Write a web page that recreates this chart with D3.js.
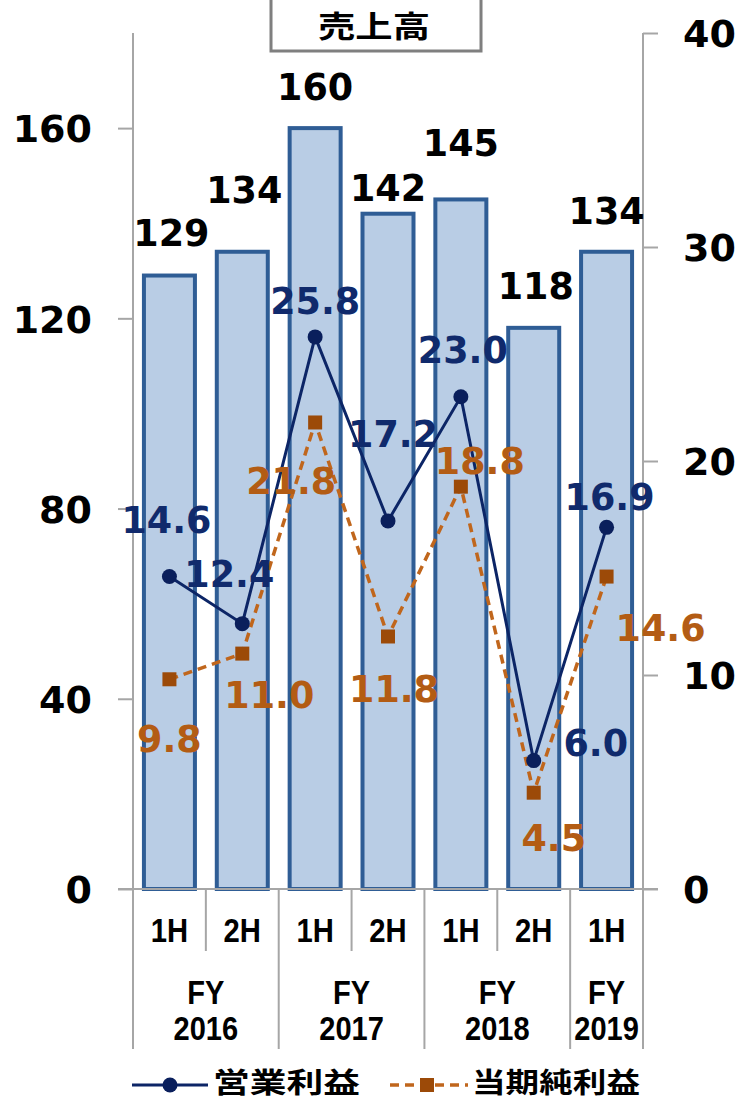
<!DOCTYPE html>
<html><head><meta charset="utf-8">
<script src="https://cdn.jsdelivr.net/npm/d3@7/dist/d3.min.js"></script>
<style>body{margin:0;background:#fff}svg{display:block}</style>
</head><body><svg id="c" width="741" height="1101"></svg>
<script>
// ---- data ----
const halves = ["1H","2H","1H","2H","1H","2H","1H"];
const fiscalYears = ["2016","2016","2017","2017","2018","2018","2019"];
const sales = [129,134,160,142,145,118,134];
const operatingProfit = [14.6,12.4,25.8,17.2,23.0,6.0,16.9];
const netProfit = [9.8,11.0,21.8,11.8,18.8,4.5,14.6];
const leftTicks = [0,40,80,120,160];
const rightTicks = [0,10,20,30,40];
const titleText = "売上高";
const legendNames = ["営業利益","当期純利益"];

// ---- label placement (offsets in px, label centre relative to its mark) ----
const salesLabelOff = [[2,-44],[2,-63],[0,-42],[0,-27],[0,-57],[2,-43],[0,-42]];
const opLabelOff = [[-3,-58],[-13,-51],[0,-37],[5,-88],[2,-48],[62,-19],[3,-31]];
const npLabelOff = [[0,59],[27,40],[-24,58],[6,52],[19,-27],[20,44],[54,50]];

const svg = d3.select("#c");
const L=133, R=643, T=33, B=889, CB=1049;
const idx = d3.range(sales.length);
const x = d3.scaleBand().domain(idx).range([L,R]).paddingInner(0.3).paddingOuter(0.15);
const yL = d3.scaleLinear().domain([0,180]).range([B,T]);
const yR = d3.scaleLinear().domain([0,40]).range([B,T]);
const cx = i => x(i)+x.bandwidth()/2;
const step = x.step();

const NAVY="#0c2566", NAVYT="#102a6c", ORG="#c0661c", ORGT="#b35c14", ORGM="#9c4a08";
const numFont = "'DejaVu Sans', Verdana, sans-serif";
const latFont = "'Liberation Sans', Arial, sans-serif";
const cjkFont = "'Noto Sans CJK JP', sans-serif";
const AX="#a6a6a6";

// bars
svg.append("g").selectAll("rect").data(idx).join("rect")
  .attr("x", i=>x(i)).attr("width", x.bandwidth())
  .attr("y", i=>yL(sales[i])).attr("height", i=>B-yL(sales[i]))
  .attr("fill","#b9cde5").attr("stroke","#2f5d95").attr("stroke-width",4);

// axes lines
const g = svg.append("g").attr("stroke",AX).attr("stroke-width",2).attr("fill","none");
g.append("line").attr("x1",L).attr("x2",L).attr("y1",T).attr("y2",CB);
g.append("line").attr("x1",R).attr("x2",R).attr("y1",T).attr("y2",CB);
g.append("line").attr("x1",L-15).attr("x2",R+15).attr("y1",B).attr("y2",B);
// separators
idx.slice(1).forEach(i=>{
  const xs = L + step*i;
  const long = fiscalYears[i]!==fiscalYears[i-1];
  g.append("line").attr("x1",xs).attr("x2",xs).attr("y1",B).attr("y2",long?CB:951);
});

// left axis ticks
const axL = d3.axisLeft(yL).tickValues(leftTicks).tickSize(15).tickPadding(26);
const gl = svg.append("g").attr("transform",`translate(${L},0)`).call(axL);
gl.select(".domain").remove();
gl.selectAll(".tick line").attr("stroke",AX).attr("stroke-width",2);
gl.selectAll(".tick text").attr("font-family",numFont).attr("font-weight","bold")
  .attr("font-size",38).attr("fill","#000").attr("dy","0.36em");
// right axis ticks
const axR = d3.axisRight(yR).tickValues(rightTicks).tickSize(15).tickPadding(25);
const gr = svg.append("g").attr("transform",`translate(${R},0)`).call(axR);
gr.select(".domain").remove();
gr.selectAll(".tick line").attr("stroke",AX).attr("stroke-width",2);
gr.selectAll(".tick text").attr("font-family",numFont).attr("font-weight","bold")
  .attr("font-size",38).attr("fill","#000").attr("dy","0.36em");

// category labels
function ctext(px,py,s,size,sx,fill,font,anchor){
  return svg.append("text").attr("transform",`translate(${px},${py}) scale(${sx},1)`)
    .attr("text-anchor",anchor||"middle").attr("font-family",font).attr("font-weight","bold")
    .attr("font-size",size).attr("fill",fill).text(s);
}
idx.forEach(i=>ctext(cx(i),942,halves[i],34,0.86,"#000",latFont));
const groups = d3.groups(idx, i=>fiscalYears[i]);
groups.forEach(([fy,arr])=>{
  const mx = (L+step*arr[0] + L+step*(arr[arr.length-1]+1))/2;
  ctext(mx,1004,"FY",33,0.88,"#000",latFont);
  ctext(mx,1040,fy,33,0.88,"#000",latFont);
});

// lines
const lineOp = d3.line().x((d,i)=>cx(i)).y(d=>yR(d));
svg.append("path").attr("d",lineOp(netProfit)).attr("fill","none").attr("stroke",ORG)
  .attr("stroke-width",3.5).attr("stroke-dasharray","9,6");
svg.append("g").selectAll("rect").data(netProfit).join("rect")
  .attr("x",(d,i)=>cx(i)-7).attr("y",d=>yR(d)-7).attr("width",14).attr("height",14).attr("fill",ORGM);
svg.append("path").attr("d",lineOp(operatingProfit)).attr("fill","none").attr("stroke",NAVY)
  .attr("stroke-width",3);
svg.append("g").selectAll("circle").data(operatingProfit).join("circle")
  .attr("cx",(d,i)=>cx(i)).attr("cy",d=>yR(d)).attr("r",7.5).attr("fill","#0a1f5c");

// value labels
idx.forEach(i=>ctext(cx(i)+salesLabelOff[i][0], yL(sales[i])+salesLabelOff[i][1]+14, String(sales[i]),38,0.96,"#000",numFont));
idx.forEach(i=>ctext(cx(i)+opLabelOff[i][0], yR(operatingProfit[i])+opLabelOff[i][1]+14, operatingProfit[i].toFixed(1),38,0.96,NAVYT,numFont));
idx.forEach(i=>ctext(cx(i)+npLabelOff[i][0], yR(netProfit[i])+npLabelOff[i][1]+14, netProfit[i].toFixed(1),38,0.96,ORGT,numFont));

// title box
svg.append("rect").attr("x",271).attr("y",-10).attr("width",210).attr("height",61)
  .attr("fill","#fff").attr("stroke","#7f7f7f").attr("stroke-width",3);
svg.append("text").attr("x",374).attr("y",37).attr("text-anchor","middle")
  .attr("font-family",cjkFont).attr("font-weight","bold").attr("font-size",30)
  .attr("textLength",112).attr("lengthAdjust","spacingAndGlyphs").text(titleText);

// legend
const lg = svg.append("g");
lg.append("line").attr("x1",132).attr("x2",208).attr("y1",1085).attr("y2",1085).attr("stroke",NAVY).attr("stroke-width",3);
lg.append("circle").attr("cx",170).attr("cy",1085).attr("r",7.5).attr("fill","#0a1f5c");
lg.append("text").attr("x",213).attr("y",1093).attr("font-family",cjkFont).attr("font-weight","bold")
  .attr("font-size",28).attr("textLength",147).attr("lengthAdjust","spacingAndGlyphs").text(legendNames[0]);
lg.append("line").attr("x1",390).attr("x2",468).attr("y1",1085).attr("y2",1085).attr("stroke",ORG)
  .attr("stroke-width",3.5).attr("stroke-dasharray","9,6");
lg.append("rect").attr("x",420).attr("y",1078).attr("width",14).attr("height",14).attr("fill",ORGM);
lg.append("text").attr("x",472).attr("y",1093).attr("font-family",cjkFont).attr("font-weight","bold")
  .attr("font-size",28).attr("textLength",168).attr("lengthAdjust","spacingAndGlyphs").text(legendNames[1]);
</script></body></html>
